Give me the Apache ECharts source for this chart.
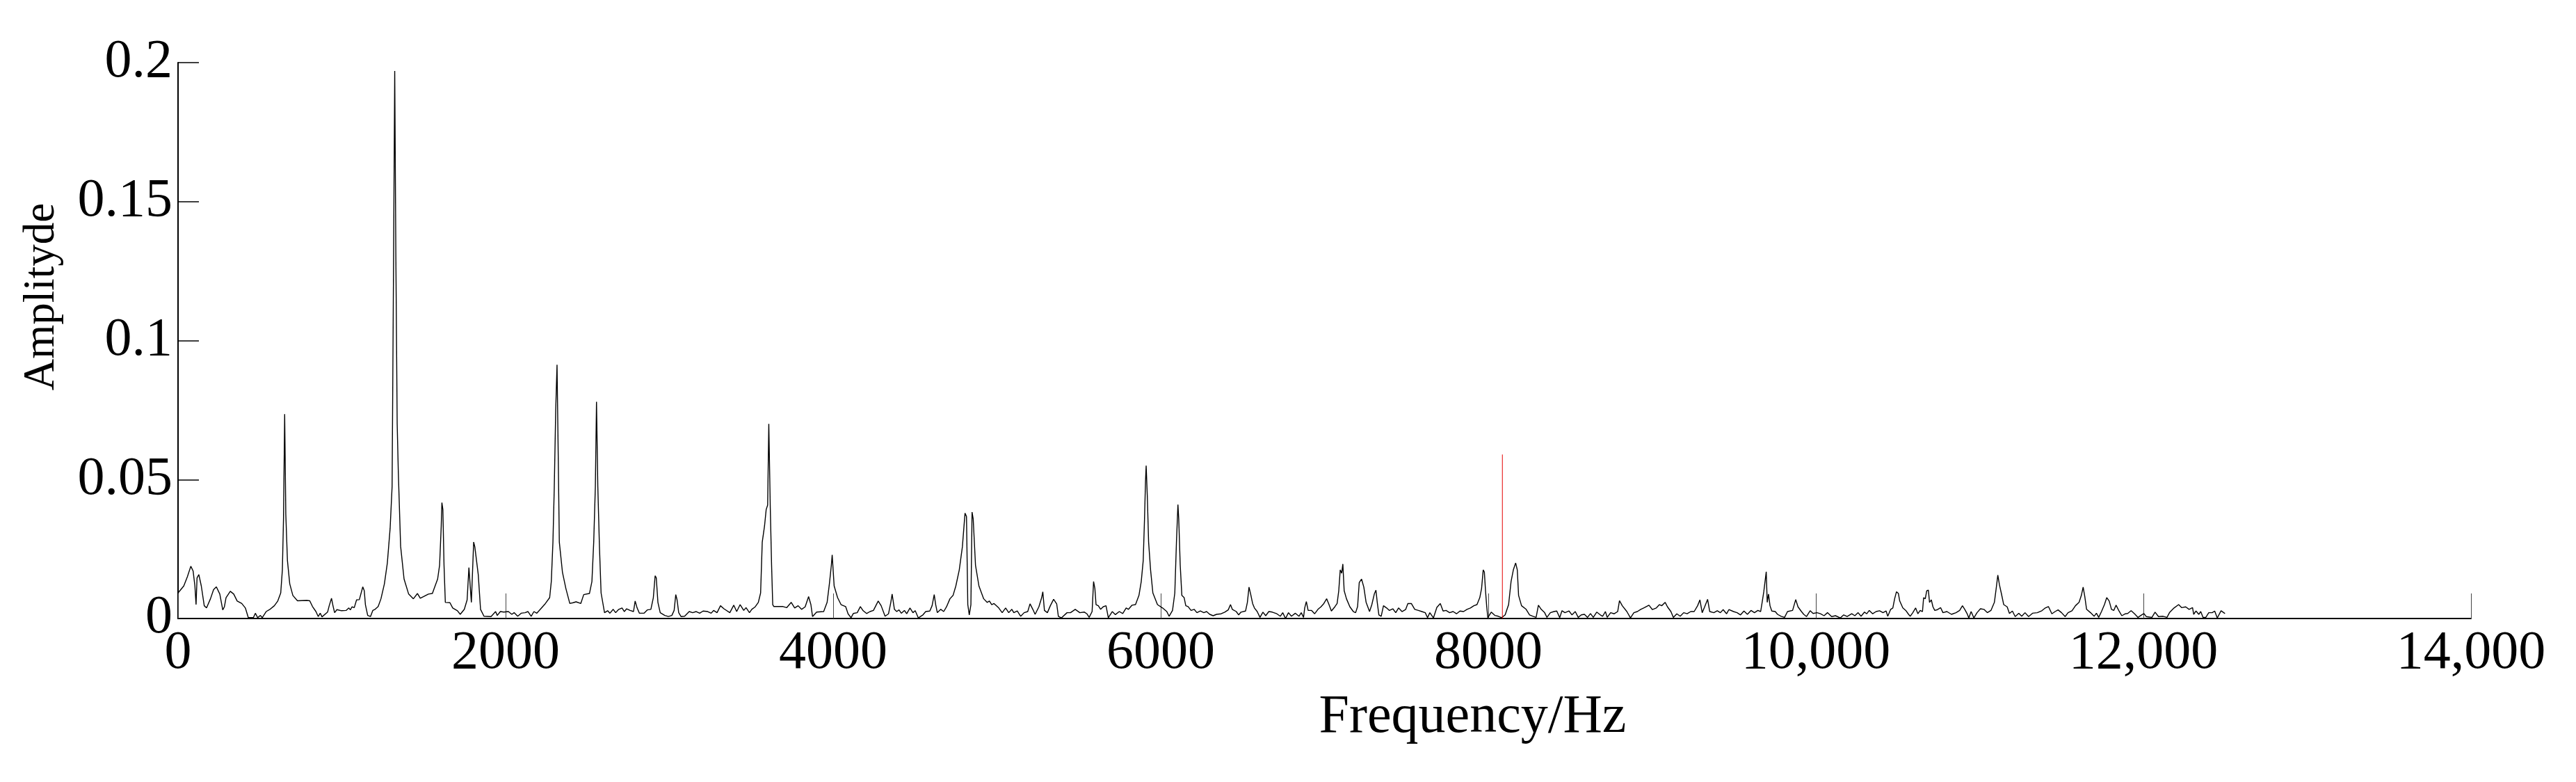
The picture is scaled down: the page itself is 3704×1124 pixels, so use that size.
<!DOCTYPE html>
<html>
<head>
<meta charset="utf-8">
<script src="https://cdn.jsdelivr.net/npm/echarts@6/dist/echarts.min.js"></script>
<style>
    html, body { margin: 0; padding: 0; background: #ffffff; }
    #chart { width: 3704px; height: 1124px; }
</style>
</head>
<body>
<div id="chart"></div>
<script>
// spectrum, [frequency Hz, amplitude], split by band
const band0to2k = [
    [0,.0092],[35,.0117],[57,.015],[78,.0188],[92,.0171],[103,.0117],[110,.005],[116,.0146],[127,.0158],[142,.0117],
    [160,.0046],[174,.0038],[198,.0071],[217,.0104],[234,.0114],[255,.0088],[273,.0031],[283,.0042],[293,.0075],[319,.0098],
    [340,.0088],[361,.0063],[389,.0054],[411,.0038],[429,.0003],[460,.0003],[472,.0019],[486,.0003],[503,.0011],[514,.0003],
    [538,.0025],[559,.0032],[588,.0046],[609,.0063],[627,.0092],[637,.0175],[644,.036],[651,.0735],[658,.0375],[668,.0208],
    [682,.0125],[701,.0083],[729,.0064],[786,.0065],[804,.0064],[821,.0043],[842,.0025],[856,.0007],[868,.0019],[879,.0006],
    [913,.0023],[923,.0046],[937,.0073],[946,.0046],[956,.0021],[970,.0032],[998,.0028],[1026,.0029],[1043,.0038],[1052,.0031],
    [1062,.0042],[1076,.0039],[1090,.0067],[1107,.0068],[1128,.0114],[1137,.01],[1144,.005],[1158,.0011],[1175,.0007],[1189,.0029],
    [1203,.0033],[1222,.0043],[1239,.0071],[1260,.0125],[1278,.02],[1295,.0325],[1307,.0475],[1315,.12],[1323,.197],[1330,.13],
    [1338,.07],[1345,.0525],[1359,.026],[1380,.0142],[1408,.0088],[1437,.0071],[1462,.009],[1479,.0073],[1500,.0079],[1529,.0088],
    [1553,.009],[1564,.0108],[1585,.0142],[1597,.0192],[1607,.0333],[1611,.0417],[1617,.0392],[1624,.0192],[1632,.0058],[1660,.0057],
    [1677,.0038],[1706,.0028],[1723,.0015],[1748,.0033],[1765,.0067],[1776,.0183],[1783,.0188],[1791,.0058],[1798,.0054],[1805,.0275],
    [1812,.0258],[1833,.0158],[1847,.0033],[1868,.0008],[1911,.0007],[1939,.0025],[1949,.0011],[1968,.0025],[1989,.0023]
];
const band2kto4k = [
    [2017,.0025],[2038,.0015],[2052,.0021],[2074,.0008],[2095,.0019],[2119,.0021],[2137,.0025],[2156,.0008],[2173,.0025],[2190,.0019],
    [2212,.0033],[2243,.0054],[2269,.0075],[2279,.0133],[2289,.0275],[2297,.0467],[2306,.075],[2314,.0913],[2321,.06],[2328,.0275],
    [2347,.0167],[2368,.0108],[2392,.0054],[2413,.0057],[2430,.006],[2459,.0054],[2477,.0086],[2512,.009],[2527,.0133],[2538,.0275],
    [2548,.0475],[2555,.078],[2563,.0475],[2573,.0258],[2583,.0092],[2604,.0021],[2623,.0028],[2637,.0019],[2657,.0033],[2672,.0021],
    [2689,.0032],[2711,.0038],[2725,.0025],[2739,.0035],[2760,.0029],[2781,.0025],[2791,.0063],[2803,.0038],[2817,.0019],[2845,.0019],
    [2866,.0031],[2887,.0033],[2902,.0075],[2913,.0154],[2920,.0146],[2930,.0058],[2944,.0021],[2972,.0011],[2994,.0007],[3015,.0011],
    [3029,.0029],[3039,.0086],[3047,.0067],[3057,.0021],[3071,.0007],[3093,.0008],[3121,.0025],[3142,.0021],[3164,.0025],[3185,.0019],
    [3206,.0027],[3234,.0025],[3255,.0019],[3270,.0029],[3291,.0021],[3312,.0046],[3333,.0035],[3369,.0021],[3393,.0048],[3411,.0025],
    [3432,.005],[3454,.0029],[3468,.0039],[3489,.0021],[3503,.0033],[3524,.0042],[3543,.0058],[3557,.0092],[3567,.0275],[3581,.0333],
    [3591,.0392],[3600,.0408],[3607,.07],[3616,.04],[3624,.0192],[3631,.005],[3638,.0043],[3673,.0043],[3694,.0043],[3716,.0039],
    [3744,.0058],[3765,.0038],[3786,.0046],[3807,.0033],[3829,.0042],[3850,.0079],[3864,.005],[3874,.0007],[3899,.0023],[3942,.0025],
    [3963,.0058],[3977,.0125],[3989,.0192],[3994,.0229]
];
const band4kto6k = [
    [4006,.0117],[4027,.0075],[4048,.005],[4076,.0043],[4091,.0017],[4109,.0003],[4123,.0018],[4147,.0021],[4166,.0043],[4183,.0028],
    [4204,.0018],[4225,.0025],[4246,.0029],[4275,.0063],[4293,.0046],[4317,.0008],[4338,.0017],[4352,.0058],[4360,.0088],[4374,.0033],
    [4388,.0025],[4402,.0031],[4416,.0019],[4435,.0029],[4449,.0017],[4469,.0038],[4487,.0021],[4501,.0028],[4520,.0002],[4548,.0013],
    [4565,.0025],[4590,.0027],[4604,.0046],[4617,.0086],[4626,.005],[4636,.0021],[4657,.0033],[4675,.0025],[4692,.0042],[4713,.0071],
    [4732,.0083],[4749,.0117],[4770,.0175],[4789,.0258],[4805,.0379],[4814,.0367],[4822,.005],[4831,.0013],[4841,.005],[4848,.0383],
    [4855,.0358],[4869,.0192],[4890,.0117],[4919,.0071],[4940,.0058],[4954,.0063],[4968,.005],[4982,.0054],[5011,.0038],[5032,.0021],
    [5053,.0038],[5072,.0021],[5091,.0033],[5103,.0021],[5124,.0027],[5145,.0008],[5166,.0021],[5188,.0025],[5202,.0053],[5219,.0033],
    [5233,.0015],[5256,.0042],[5273,.0075],[5280,.0096],[5290,.0029],[5308,.0021],[5326,.0046],[5346,.0069],[5365,.0052],[5375,.0008],
    [5393,.0002],[5428,.0021],[5449,.0021],[5478,.0033],[5506,.0021],[5534,.0023],[5549,.0017],[5563,.0004],[5581,.0025],[5590,.0133],
    [5598,.0108],[5605,.005],[5619,.0046],[5633,.0033],[5648,.0042],[5666,.0046],[5680,.0003],[5704,.0025],[5723,.0014],[5747,.0025],
    [5768,.0018],[5789,.0038],[5803,.0033],[5825,.0048],[5846,.005],[5867,.0083],[5881,.0133],[5893,.0208],[5901,.0358],[5907,.0492],
    [5911,.055],[5918,.0442],[5926,.0275],[5938,.0175],[5952,.0092],[5980,.005]
];
const band6kto8k = [
    [6011,.0038],[6037,.0025],[6051,.0008],[6072,.0029],[6086,.0092],[6096,.0275],[6105,.041],[6110,.0358],[6119,.0192],[6129,.0083],
    [6143,.0075],[6153,.0046],[6167,.0043],[6185,.0029],[6204,.0033],[6221,.0021],[6242,.0027],[6263,.0021],[6280,.0025],[6299,.0015],
    [6320,.001],[6341,.0015],[6369,.0017],[6391,.0023],[6412,.0031],[6426,.005],[6437,.0033],[6461,.0025],[6476,.0013],[6490,.0023],
    [6518,.0027],[6529,.0058],[6539,.0113],[6549,.0088],[6561,.0054],[6572,.0038],[6589,.0025],[6606,.0004],[6624,.0023],[6641,.001],
    [6660,.0025],[6681,.0023],[6709,.0017],[6730,.0008],[6745,.0021],[6762,0],[6780,.0021],[6798,.0008],[6822,.0019],[6844,.0008],
    [6858,.0021],[6872,.0004],[6879,.0038],[6889,.0061],[6900,.0029],[6921,.0029],[6940,.0017],[6960,.0033],[6978,.0042],[6996,.0054],
    [7013,.0071],[7025,.0054],[7042,.0027],[7063,.0042],[7077,.0054],[7087,.01],[7096,.0175],[7105,.0163],[7112,.0196],[7120,.01],
    [7134,.0071],[7155,.0042],[7176,.0025],[7190,.0021],[7202,.0043],[7212,.0129],[7226,.0142],[7240,.0113],[7254,.0058],[7275,.0025],
    [7289,.005],[7304,.0088],[7314,.0102],[7322,.0058],[7332,.0013],[7346,.0008],[7360,.0046],[7379,.0038],[7396,.0029],[7417,.0035],
    [7435,.0021],[7452,.0038],[7473,.0025],[7495,.0032],[7509,.0054],[7530,.0054],[7551,.0033],[7573,.0029],[7594,.0025],[7615,.0021],
    [7629,.0003],[7643,.0021],[7665,.0002],[7686,.004],[7707,.0054],[7724,.0027],[7742,.0029],[7764,.0021],[7785,.0025],[7806,.0017],
    [7827,.0027],[7849,.0025],[7870,.0033],[7891,.0038],[7912,.0046],[7931,.005],[7948,.0075],[7959,.0108],[7969,.0175],[7976,.0167],
    [7983,.01],[7990,.0046],[7997,.0003]
];
const band8kto10k = [
    [8018,.0023],[8040,.0011],[8061,.0008],[8082,.0003],[8103,.0013],[8124,.005],[8139,.0133],[8153,.0175],[8167,.02],[8177,.0175],
    [8185,.0083],[8203,.0046],[8231,.0033],[8252,.0013],[8273,.0008],[8292,.0004],[8306,.0048],[8323,.0033],[8344,.0021],[8358,.0004],
    [8379,.0021],[8401,.0025],[8418,.0027],[8436,.0003],[8450,.0028],[8468,.0021],[8493,.0027],[8511,.0013],[8531,.0025],[8549,.0004],
    [8568,.0013],[8587,.0015],[8606,.0004],[8624,.0018],[8641,.0004],[8662,.0023],[8684,.0013],[8698,.0008],[8715,.0025],[8726,.0004],
    [8747,.0021],[8769,.0017],[8790,.0025],[8801,.0064],[8818,.0046],[8846,.0025],[8868,.0002],[8889,.0021],[8910,.0025],[8931,.0033],
    [8953,.0039],[8981,.0048],[9002,.0032],[9026,.0038],[9045,.005],[9059,.0046],[9080,.0058],[9094,.0042],[9115,.0025],[9130,.0004],
    [9151,.0017],[9172,.0008],[9193,.0021],[9214,.0017],[9236,.0025],[9257,.0025],[9278,.0046],[9292,.0067],[9306,.0021],[9321,.0042],
    [9339,.0069],[9352,.0025],[9377,.0021],[9398,.0028],[9417,.0021],[9434,.0032],[9455,.0017],[9469,.0032],[9497,.0025],[9519,.0021],
    [9540,.0013],[9561,.0027],[9582,.0015],[9604,.0029],[9625,.0021],[9646,.0029],[9663,.0025],[9672,.0058],[9682,.0096],[9689,.0092],
    [9697,.0168],[9703,.0058],[9711,.0088],[9720,.0046],[9731,.0027],[9752,.0025],[9766,.0015],[9788,.0008],[9809,.0004],[9827,.0025],
    [9858,.0029],[9877,.0068],[9891,.0042],[9912,.0025],[9926,.0015],[9943,.0007],[9965,.0028],[9983,.0018]
];
const band10kto12k = [
    [10007,.0021],[10028,.0017],[10050,.001],[10071,.0021],[10096,.0007],[10120,.001],[10149,.0002],[10170,.0013],[10191,.0007],[10219,.0017],
    [10238,.001],[10258,.0021],[10276,.0008],[10297,.0023],[10311,.0017],[10326,.0029],[10347,.0017],[10368,.0025],[10389,.0028],[10410,.0021],
    [10429,.0027],[10439,.0008],[10457,.0033],[10470,.0038],[10481,.0071],[10492,.0096],[10504,.009],[10512,.0063],[10531,.0038],[10549,.0029],
    [10566,.0015],[10576,.0008],[10592,.0021],[10609,.0038],[10623,.0017],[10637,.0029],[10651,.0025],[10658,.0075],[10668,.0071],[10677,.01],
    [10687,.0102],[10694,.0058],[10705,.0067],[10715,.0042],[10726,.0029],[10743,.0032],[10762,.0039],[10776,.0021],[10800,.0025],[10828,.0015],
    [10856,.0021],[10878,.0029],[10895,.0046],[10909,.0033],[10923,.0018],[10934,.0002],[10948,.0025],[10965,.0002],[10984,.0021],[11005,.0035],
    [11026,.0033],[11047,.0021],[11069,.0029],[11090,.0058],[11101,.0108],[11111,.0156],[11121,.0121],[11132,.0092],[11147,.005],[11168,.0042],
    [11182,.0018],[11200,.0027],[11217,.0007],[11239,.0019],[11257,.0008],[11277,.0021],[11299,.0007],[11323,.0019],[11352,.0021],[11380,.0028],
    [11401,.0038],[11420,.0043],[11441,.0017],[11461,.0025],[11479,.0031],[11500,.0021],[11522,.0007],[11540,.0021],[11564,.0028],[11585,.0046],
    [11607,.0058],[11621,.0083],[11632,.0113],[11642,.0079],[11653,.0033],[11677,.0021],[11699,.0008],[11713,.0019],[11727,.0004],[11744,.0025],
    [11762,.005],[11776,.0075],[11791,.0063],[11805,.0033],[11819,.0029],[11833,.0048],[11851,.0027],[11868,.001],[11890,.0017],[11904,.0018],
    [11925,.0028],[11946,.0017],[11967,.0004],[11989,.0013]
];
const band12kUp = [
    [12003,.0018],[12017,.0007],[12052,.0004],[12071,.0023],[12092,.0007],[12120,.0008],[12144,.0004],[12159,.0021],[12187,.0038],[12215,.005],
    [12234,.0039],[12258,.0042],[12279,.0033],[12300,.0039],[12307,.0015],[12321,.0027],[12338,.0015],[12350,.0025],[12364,.0004],[12381,.0004],
    [12399,.0021],[12420,.0021],[12435,.0027],[12451,.0002],[12474,.0028],[12498,.0018]
];
// red marker line
const markerHz = 8086;
const markerTop = 0.059;

const xTicks = [0, 14000, 2000];   // min, max, step
const yTicks = [0, 0.2, 0.05];

const spectrum = band0to2k.concat(band2kto4k, band4kto6k, band6kto8k, band8kto10k, band10kto12k, band12kUp);
const serif = "'Liberation Serif', 'Times New Roman', serif";

let myChart = echarts.init(document.getElementById('chart'));
myChart.setOption({
    animation: false,
    backgroundColor: '#ffffff',
    grid: {
        left: 256,
        right: 151,
        top: 90,
        bottom: 235
    },
    xAxis: {
        type: 'value',
        min: xTicks[0],
        max: xTicks[1],
        interval: xTicks[2],
        name: 'Frequency/Hz',
        nameLocation: 'middle',
        nameGap: 104,
        nameTextStyle: {
            fontFamily: serif,
            fontSize: 78,
            color: '#000',
            padding: [0, 0, 0, 426]
        },
        axisLine: { lineStyle: { color: '#000', width: 2 } },
        axisTick: { inside: true, length: 36, lineStyle: { color: '#444', width: 1 } },
        axisLabel: {
            margin: 12,
            fontFamily: serif,
            fontSize: 78,
            color: '#000',
            formatter: function (v) {
                return v >= 10000 ? v.toLocaleString('en-US') : String(v);
            }
        },
        splitLine: { show: false }
    },
    yAxis: {
        type: 'value',
        min: yTicks[0],
        max: yTicks[1],
        interval: yTicks[2],
        name: 'Amplityde',
        nameLocation: 'middle',
        nameRotate: 90,
        nameGap: 164,
        nameTextStyle: {
            fontFamily: serif,
            fontSize: 63,
            color: '#000',
            padding: [0, 0, 0, 126]
        },
        axisLine: { lineStyle: { color: '#000', width: 2 } },
        axisTick: { inside: true, length: 30, lineStyle: { color: '#000', width: 1.5 } },
        axisLabel: {
            margin: 8,
            fontFamily: serif,
            fontSize: 78,
            color: '#000'
        },
        splitLine: { show: false }
    },
    series: [
        {
            name: 'spectrum',
            type: 'line',
            data: spectrum,
            showSymbol: false,
            lineStyle: { color: '#000', width: 1.4 },
            z: 3
        },
        {
            name: 'marker',
            type: 'line',
            data: [[markerHz, 0], [markerHz, markerTop]],
            showSymbol: false,
            lineStyle: { color: '#e60000', width: 1 },
            z: 4
        }
    ]
});
</script>
</body>
</html>
